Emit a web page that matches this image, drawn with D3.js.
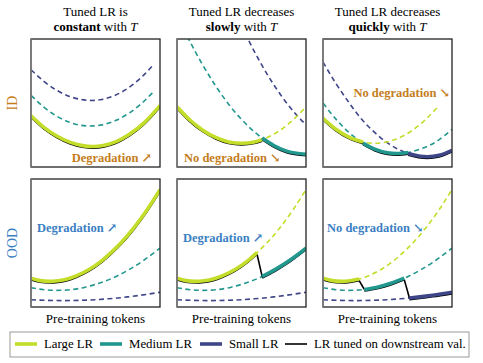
<!DOCTYPE html>
<html>
<head>
<meta charset="utf-8">
<script src="https://cdn.jsdelivr.net/npm/d3@7"></script>
<style>
  body { margin: 0; background: #fff; }
  text { font-family: "Liberation Serif", "DejaVu Serif", serif; }
</style>
</head>
<body>
<script>
const width = 483
const height = 363

// text
const titleTop = ['Tuned LR is', 'Tuned LR decreases', 'Tuned LR decreases']
const titleBold = ['constant', 'slowly', 'quickly']
const rowLabels = ['ID', 'OOD']
const xLabel = 'Pre-training tokens'
const legendLabels = ['Large LR', 'Medium LR', 'Small LR', 'LR tuned on downstream val.']
const notes = ['Degradation \u2197', 'No degradation \u2198', 'No degradation \u2198',
               'Degradation \u2197', 'Degradation \u2197', 'No degradation \u2198']

// loss curves, [tokens, loss] on a 0..100 scale
const idConstLarge = [[0,40],[10,31],[20,24.2],[30,19.4],[40,16.7],[48,16],[56,16.8],[66,19.8],[76,25.3],[88,34.9],[100,48]]
const idConstMedium = [[0,56],[10,46.7],[20,39.7],[30,34.9],[38,32.7],[46,32],[56,33.1],[66,36.5],[76,42.1],[86,49.9],[96,60]]
const idConstSmall = [[0,76],[10,66.9],[20,59.9],[30,55.1],[39,52.7],[47,52],[55,52.8],[65,55.9],[75,61.5],[85,69.5],[95,80]]

const idSlowLarge = [[0,47],[10,36.7],[20,28.8],[30,23.1],[40,19.6],[50,18.5],[60,19.6],[66,21.4],[76,26.2],[88,35],[100,47]]
const idSlowMedium = [[5,108],[9,100],[20,79.6],[30,63.3],[40,49.1],[50,37.2],[60,27.4],[66,22.6],[75,16.8],[85,12.4],[100,10]]
const idSlowSmall = [[50,110.5],[55,100],[65,81],[75,64.3],[85,50],[92,41.4],[100,33]]

const idFastLarge = [[0,38],[10,29.5],[20,23.4],[31,19.5],[40,18.5],[50,19.7],[60,23.2],[70,29.2],[80,37.5],[89,47]]
const idFastMedium = [[0,50],[10,37.4],[20,27.1],[31,18.7],[40,14],[50,11.1],[57,10.5],[66,11.3],[76,14.2],[88,19.9],[100,29.5]]
const idFastSmall = [[0,82],[10,65.3],[20,50.5],[30,37.3],[40,27],[50,18.8],[58,14],[66,10.5],[74,8.6],[81,8],[90,9.1],[100,13]]

const oodLarge = [[0,22.5],[7,20.6],[14,20],[21,20.5],[28,21.8],[35,24.3],[45,29.3],[55,36.3],[62,42.5],[70,50.4],[80,62.2],[90,76],[100,91.7]]
const oodMedium = [[0,15.1],[10,13.5],[20,13],[32,13.7],[42,15.5],[52,18.3],[63,22.5],[66,23.9],[76,29.2],[88,36.9],[100,46]]
const oodSmall = [[0,5.7],[12,5.2],[25,5],[38,5.2],[50,5.7],[60,6.4],[67,7],[75,7.9],[85,9.2],[100,11.5]]

// which LR the downstream-tuned run follows, [lr, from, to]
const tunedIdConst = [['large', 0, 100]]
const tunedIdSlow = [['large', 0, 66], ['medium', 66, 100]]
const tunedIdFast = [['large', 0, 31], ['medium', 31, 66], ['small', 66, 100]]
const tunedOodConst = [['large', 0, 100]]
const tunedOodSlow = [['large', 0, 62], ['medium', 66, 100]]
const tunedOodFast = [['large', 0, 28], ['medium', 32, 63], ['small', 67, 100]]

const colors = { large: '#c3dd2a', medium: '#22978e', small: '#3f4688' }
const orange = '#c47d1c'
const blue = '#3b7fc2'

const panels = [
  { row: 0, col: 0, curves: { large: idConstLarge, medium: idConstMedium, small: idConstSmall }, tuned: tunedIdConst },
  { row: 0, col: 1, curves: { large: idSlowLarge, medium: idSlowMedium, small: idSlowSmall }, tuned: tunedIdSlow },
  { row: 0, col: 2, curves: { large: idFastLarge, medium: idFastMedium, small: idFastSmall }, tuned: tunedIdFast },
  { row: 1, col: 0, curves: { large: oodLarge, medium: oodMedium, small: oodSmall }, tuned: tunedOodConst },
  { row: 1, col: 1, curves: { large: oodLarge, medium: oodMedium, small: oodSmall }, tuned: tunedOodSlow },
  { row: 1, col: 2, curves: { large: oodLarge, medium: oodMedium, small: oodSmall }, tuned: tunedOodFast },
]

// layout
const panelX = [31, 177, 323]
const panelY = [39, 179]
const panelW = 129
const panelH = 128
// note placement per panel: [x, y, anchor]
const notePos = [[152, 162, 'end'], [184, 162, 'start'], [450, 97, 'end'],
                 [37, 232, 'start'], [183, 242, 'start'], [327, 232, 'start']]

const svg = d3.select('body').append('svg')
  .attr('width', width)
  .attr('height', height)

const defs = svg.append('defs')

// column titles
titleTop.forEach((t, i) => {
  const cx = panelX[i] + panelW / 2
  svg.append('text')
    .attr('x', cx).attr('y', 16)
    .attr('text-anchor', 'middle')
    .attr('font-size', 13)
    .text(t)
  const t2 = svg.append('text')
    .attr('x', cx).attr('y', 31)
    .attr('text-anchor', 'middle')
    .attr('font-size', 13)
  t2.append('tspan').attr('font-weight', 'bold').text(titleBold[i])
  t2.append('tspan').text(' with ')
  t2.append('tspan').attr('font-style', 'italic').text('T')
})

// row labels
rowLabels.forEach((t, i) => {
  const cy = panelY[i] + panelH / 2
  svg.append('text')
    .attr('transform', `translate(17,${cy}) rotate(-90)`)
    .attr('text-anchor', 'middle')
    .attr('font-size', 14)
    .attr('fill', i === 0 ? orange : blue)
    .text(t)
})

panels.forEach((p, i) => {
  const x0 = panelX[p.col]
  const y0 = panelY[p.row]
  const x = d3.scaleLinear().domain([0, 100]).range([x0, x0 + panelW])
  const y = d3.scaleLinear().domain([0, 100]).range([y0 + panelH, y0])

  const line = d3.line()
    .x(d => x(d[0]))
    .y(d => y(d[1]))
    .curve(d3.curveMonotoneX)

  defs.append('clipPath').attr('id', 'clip' + i)
    .append('rect')
    .attr('x', x0).attr('y', y0)
    .attr('width', panelW).attr('height', panelH)

  const g = svg.append('g').attr('clip-path', `url(#clip${i})`)

  // dashed curves for every LR
  for (const key of ['small', 'medium', 'large']) {
    g.append('path')
      .attr('d', line(p.curves[key]))
      .attr('fill', 'none')
      .attr('stroke', colors[key])
      .attr('stroke-width', 1.6)
      .attr('stroke-dasharray', '5,3.5')
  }

  // black tuned line, slightly below the coloured one
  const segs = p.tuned.map(([key, a, b]) => p.curves[key].filter(d => d[0] >= a && d[0] <= b))
  const gb = g.append('g').attr('transform', 'translate(0,1.4)')
  segs.forEach((s, j) => {
    gb.append('path')
      .attr('d', line(s))
      .attr('fill', 'none')
      .attr('stroke', '#000')
      .attr('stroke-width', 2)
    if (j > 0) {
      const prev = segs[j - 1][segs[j - 1].length - 1]
      gb.append('line')
        .attr('x1', x(prev[0])).attr('y1', y(prev[1]))
        .attr('x2', x(s[0][0])).attr('y2', y(s[0][1]) - 1.4)
        .attr('stroke', '#000')
        .attr('stroke-width', 1.6)
    }
  })

  // solid coloured parts
  segs.forEach((s, j) => {
    g.append('path')
      .attr('d', line(s))
      .attr('fill', 'none')
      .attr('stroke', colors[p.tuned[j][0]])
      .attr('stroke-width', 3.6)
  })

  // frame
  svg.append('rect')
    .attr('x', x0).attr('y', y0)
    .attr('width', panelW).attr('height', panelH)
    .attr('fill', 'none')
    .attr('stroke', '#222')
    .attr('stroke-width', 1.3)
  svg.append('line')
    .attr('x1', x0).attr('x2', x0)
    .attr('y1', y0).attr('y2', y0 + panelH)
    .attr('stroke', '#808080')
    .attr('stroke-width', 1.5)

  // annotation
  const np = notePos[i]
  svg.append('text')
    .attr('x', np[0]).attr('y', np[1])
    .attr('text-anchor', np[2])
    .attr('font-size', 12.5)
    .attr('font-weight', 'bold')
    .attr('fill', p.row === 0 ? orange : blue)
    .text(notes[i])

  if (p.row === 1) {
    svg.append('text')
      .attr('x', x0 + panelW / 2).attr('y', 323)
      .attr('text-anchor', 'middle')
      .attr('font-size', 13)
      .text(xLabel)
  }
})

// legend
const lg = svg.append('g')
lg.append('rect')
  .attr('x', 10).attr('y', 332)
  .attr('width', 459).attr('height', 25)
  .attr('fill', '#fff')
  .attr('stroke', '#999')
  .attr('stroke-width', 1)

const legendX = [15, 100, 200, 285]
const legendColors = [colors.large, colors.medium, colors.small, '#000']
legendLabels.forEach((t, i) => {
  lg.append('line')
    .attr('x1', legendX[i]).attr('x2', legendX[i] + 22)
    .attr('y1', 344).attr('y2', 344)
    .attr('stroke', legendColors[i])
    .attr('stroke-width', i === 3 ? 1.6 : 3.6)
  lg.append('text')
    .attr('x', legendX[i] + 29).attr('y', 348)
    .attr('font-size', 12.8)
    .text(t)
})
</script>
</body>
</html>
